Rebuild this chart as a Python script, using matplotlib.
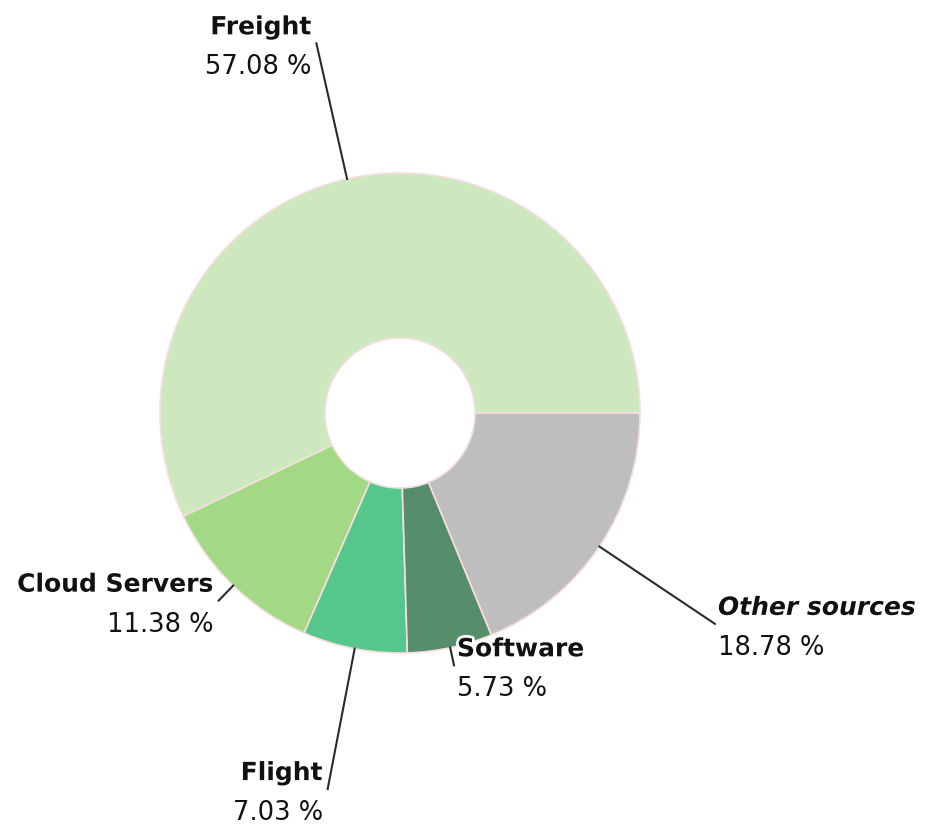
import numpy as np
import matplotlib.pyplot as plt
import matplotlib.patheffects as pe

# data
labels = ['Freight', 'Cloud Servers', 'Flight', 'Software', 'Other sources']
shares = [57.08, 11.38, 7.03, 5.73, 18.78]
colors = ['#cde8bf', '#a3d884', '#55c78a', '#568d6a', '#bebebe']

# layout (pixel units, y up)
W, H = 931, 831
cx, cy = 400, H - 413
r_out, r_in = 240, 75
label_r = [379, 261, 383, 258, 379]

plt.rcParams['font.family'] = ['DejaVu Sans']

fig = plt.figure(figsize=(W / 100, H / 100), dpi=100)
ax = fig.add_axes([0, 0, 1, 1])

wedges, _ = ax.pie(shares, colors=colors, startangle=0, counterclock=True,
                   center=(cx, cy), radius=r_out, normalize=True,
                   wedgeprops=dict(width=r_out - r_in, edgecolor='#f6dede', linewidth=1.2))
# pie resets the limits, so set them afterwards
ax.set_xlim(0, W)
ax.set_ylim(0, H)
ax.set_aspect('equal')
ax.axis('off')

halo = [pe.withStroke(linewidth=4, foreground='white')]
for w, lab, val, lr in zip(wedges, labels, shares, label_r):
    ang = np.deg2rad((w.theta1 + w.theta2) / 2)
    x0, y0 = cx + r_out * np.cos(ang), cy + r_out * np.sin(ang)
    x1, y1 = cx + lr * np.cos(ang), cy + lr * np.sin(ang)
    ax.plot([x0, x1], [y0, y1], color='#2a2a35', lw=1.5, zorder=3)
    right = np.cos(ang) > 0
    ha = 'left' if right else 'right'
    tx = x1 + (3 if right else -5)
    style = 'italic' if lab == 'Other sources' else 'normal'
    ax.text(tx, y1 + 16, lab, ha=ha, va='center', fontsize=18, fontweight='bold',
            fontstyle=style, color='#111111', path_effects=halo, zorder=4)
    ax.text(tx, y1 - 24, f'{val:.2f} %', ha=ha, va='center', fontsize=18.5,
            color='#111111', zorder=4)

fig.savefig('out.png', dpi=100, facecolor='white')
